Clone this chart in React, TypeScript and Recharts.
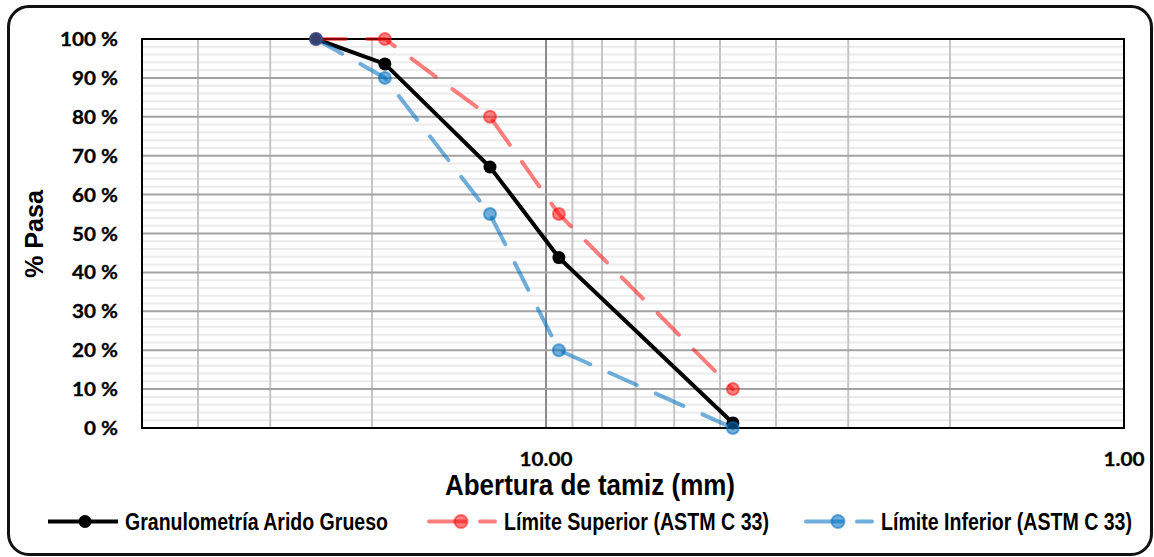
import React from 'react';
import { LineChart, Line, XAxis, YAxis, ReferenceLine, ReferenceArea, Legend } from 'recharts';

// Sieve openings (mm) and % passing
const sieveSizes = [25, 19, 12.5, 9.5, 4.75];
const passing = [100, 93.6, 67.1, 43.8, 1.3];
const upperLimit = [100, 100, 80, 55, 10];
const lowerLimit = [100, 90, 55, 20, 0];

const seriesNames = [
  'Granulometría Arido Grueso',
  'Límite Superior (ASTM C 33)',
  'Límite Inferior (ASTM C 33)',
];

const xTicks = [10, 1];
const yTicks = [0, 10, 20, 30, 40, 50, 60, 70, 80, 90, 100];
const xMinorGrid = [2, 3, 4, 5, 6, 7, 8, 9, 20, 30, 40];
const xMajorGrid = [10];
const yMinorGrid = [
  2, 4, 6, 8, 12, 14, 16, 18, 22, 24, 26, 28, 32, 34, 36, 38, 42, 44, 46, 48,
  52, 54, 56, 58, 62, 64, 66, 68, 72, 74, 76, 78, 82, 84, 86, 88, 92, 94, 96, 98,
];

const data = sieveSizes.map((s, i) => ({
  size: s,
  passing: passing[i],
  upper: upperLimit[i],
  lower: lowerLimit[i],
}));

const RED = 'rgba(255,0,0,0.5)';
const BLUE = 'rgba(0,112,192,0.56)';

const YTick = (props: any) => {
  const { x, y, payload } = props;
  const label = `${payload.value} %`;
  const digits = String(payload.value).length;
  return (
    <text
      x={x - 24}
      y={y + 7}
      textAnchor="end"
      fontFamily="Lato, 'Open Sans', sans-serif"
      fontWeight={700}
      fontSize={18.5}
      fill="#000"
      stroke="#000"
      strokeWidth={0.3}
      textLength={22 + 12 * digits}
      lengthAdjust="spacingAndGlyphs"
    >
      {label}
    </text>
  );
};

const XTick = (props: any) => {
  const { x, y, payload } = props;
  const label = Number(payload.value).toFixed(2);
  return (
    <text
      x={x}
      y={y + 38}
      textAnchor="middle"
      fontFamily="Lato, 'Open Sans', sans-serif"
      fontWeight={700}
      fontSize={19.5}
      fill="#000"
      stroke="#000"
      strokeWidth={0.3}
      textLength={(label.length - 1) * 12 + 5}
      lengthAdjust="spacingAndGlyphs"
    >
      {label}
    </text>
  );
};

const XTitle = (props: any) => {
  const { viewBox } = props;
  const cx = viewBox.x + 448;
  return (
    <text
      transform={`translate(${cx}, 495) scale(1, 1.12)`}
      x={0}
      y={0}
      textAnchor="middle"
      fontFamily="'Liberation Sans', Arial, sans-serif"
      fontWeight={700}
      fontSize={26}
      fill="#000"
      textLength={290}
      lengthAdjust="spacingAndGlyphs"
    >
      Abertura de tamiz (mm)
    </text>
  );
};

const YTitle = () => (
  <text
    x={43}
    y={234}
    textAnchor="middle"
    transform="rotate(-90, 43, 234)"
    fontFamily="'Liberation Sans', Arial, sans-serif"
    fontWeight={700}
    fontSize={25}
    fill="#000"
    textLength={88}
    lengthAdjust="spacingAndGlyphs"
  >
    % Pasa
  </text>
);

const legendItems = [
  { name: seriesNames[0], color: '#000', dashed: false, x: 48, textLen: 263 },
  { name: seriesNames[1], color: RED, dashed: true, x: 427, textLen: 265 },
  { name: seriesNames[2], color: BLUE, dashed: true, x: 804, textLen: 251 },
];

const LegendContent = () => (
  <svg width={1154} height={50} style={{ display: 'block' }}>
    {legendItems.map((it) => (
      <g key={it.name}>
        {it.dashed ? (
          <line
            x1={it.x + 2}
            x2={it.x + 68}
            y1={21.5}
            y2={21.5}
            stroke={it.color}
            strokeWidth={4}
            strokeLinecap="round"
            strokeDasharray="36 15"
          />
        ) : (
          <line x1={it.x} x2={it.x + 70} y1={21.5} y2={21.5} stroke={it.color} strokeWidth={4} />
        )}
        <circle
          cx={it.x + (it.dashed ? 34 : 37)}
          cy={21.5}
          r={6.5}
          fill={it.color}
          stroke={it.color}
          strokeWidth={it.dashed ? 2 : 0}
        />
        <text
          transform={`translate(${it.x + 77}, 30) scale(1, 1.18)`}
          x={0}
          y={0}
          fontFamily="'Liberation Sans', Arial, sans-serif"
          fontWeight={700}
          fontSize={19.5}
          fill="#000"
          textLength={it.textLen}
          lengthAdjust="spacingAndGlyphs"
        >
          {it.name}
        </text>
      </g>
    ))}
  </svg>
);

export default function App() {
  return (
    <div style={{ position: 'absolute', left: 0, top: 0, width: 1154, height: 557, background: '#fff' }}>
      <div
        style={{
          position: 'absolute',
          left: 7,
          top: 5,
          width: 1146,
          height: 551,
          border: '3px solid #111',
          borderRadius: 22,
          boxSizing: 'border-box',
        }}
      />
      <div style={{ position: 'absolute', left: 0, top: 0 }}>
        <LineChart width={1154} height={557} data={data} margin={{ top: 39, right: 30, left: 0, bottom: 0 }}>
          <XAxis
            dataKey="size"
            type="number"
            scale="log"
            domain={[1, 50]}
            allowDataOverflow
            reversed
            ticks={xTicks}
            interval={0}
            height={129}
            tickSize={0}
            tickMargin={0}
            axisLine={false}
            tickLine={false}
            tick={<XTick />}
            label={{ content: <XTitle /> }}
          />
          <YAxis
            type="number"
            domain={[0, 100]}
            ticks={yTicks}
            interval={0}
            width={142}
            tickSize={0}
            tickMargin={0}
            axisLine={false}
            tickLine={false}
            tick={<YTick />}
            label={{ content: <YTitle /> }}
          />
          {yMinorGrid.map((v) => (
            <ReferenceLine key={`ym${v}`} y={v} stroke="#ebebeb" strokeWidth={2} zIndex={-100} />
          ))}
          {xMinorGrid.map((v) => (
            <ReferenceLine key={`xm${v}`} x={v} stroke="#c6c6c6" strokeWidth={2} zIndex={-90} />
          ))}
          {xMajorGrid.map((v) => (
            <ReferenceLine key={`xM${v}`} x={v} stroke="#8c8c8c" strokeWidth={2} zIndex={-80} />
          ))}
          {yTicks.map((v) => (
            <ReferenceLine key={`yM${v}`} y={v} stroke="#a3a3a3" strokeWidth={2} zIndex={-70} />
          ))}
          <ReferenceArea x1={1} x2={50} y1={0} y2={100} fill="none" fillOpacity={0} stroke="#000" strokeWidth={2} zIndex={-60} />
          <Legend
            layout="vertical"
            align="center"
            verticalAlign="middle"
            wrapperStyle={{ position: 'absolute', left: 0, top: 500, width: 1154, height: 50 }}
            content={<LegendContent />}
          />
          <Line
            type="linear"
            dataKey="passing"
            name={seriesNames[0]}
            stroke="#000"
            strokeWidth={4}
            dot={{ r: 6.5, fill: '#000', stroke: '#000', strokeWidth: 0 }}
            activeDot={false}
            isAnimationActive={false}
          />
          <Line
            type="linear"
            dataKey="upper"
            name={seriesNames[1]}
            stroke={RED}
            strokeWidth={4}
            strokeLinecap="round"
            strokeDasharray="30 21"
            dot={{ r: 6, fill: RED, stroke: RED, strokeWidth: 2, strokeDasharray: '0' }}
            activeDot={false}
            isAnimationActive={false}
          />
          <Line
            type="linear"
            dataKey="lower"
            name={seriesNames[2]}
            stroke={BLUE}
            strokeWidth={4}
            strokeLinecap="round"
            strokeDasharray="30 21"
            dot={{ r: 6, fill: BLUE, stroke: BLUE, strokeWidth: 2, strokeDasharray: '0' }}
            activeDot={false}
            isAnimationActive={false}
          />
        </LineChart>
      </div>
    </div>
  );
}
